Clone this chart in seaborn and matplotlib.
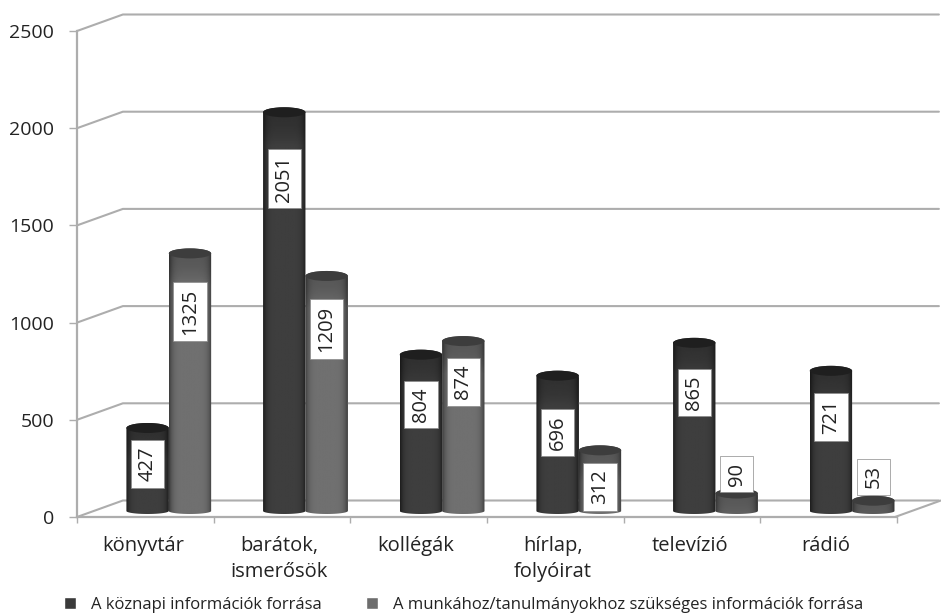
from matplotlib.patches import Ellipse, PathPatch
from matplotlib.path import Path
import matplotlib.pyplot as plt
import seaborn as sns
import pandas as pd
import numpy as np

# =====================================================
# DATA
# =====================================================

categories = ["könyvtár", "barátok,\nismerősök", "kollégák", "hírlap,\nfolyóirat", "televízió", "rádió"]
series_names = ["A köznapi információk forrása", "A munkához/tanulmányokhoz szükséges információk forrása"]
koznapi = [427, 2051, 804, 696, 865, 721]
munka = [1325, 1209, 874, 312, 90, 53]
y_ticks = [0, 500, 1000, 1500, 2000, 2500]

# where the white value boxes sit (y axis units)
koznapi_label_y = [273, 1741, 579, 435, 640, 514]
munka_label_y = [1056, 967, 696, 156, 221, 207]

df = pd.DataFrame({
    "category": categories * 2,
    "series": [series_names[0]] * 6 + [series_names[1]] * 6,
    "value": koznapi + munka,
})

# =====================================================
# SETTINGS
# =====================================================

W, H = 941, 613
left_px, right_px, bottom_px, top_px = 77, 897, 517, 31
group_px = 137
first_group_px = 169

xmin = (left_px - first_group_px) / group_px
xmax = (right_px - first_group_px) / group_px
px_x = (xmax - xmin) / (right_px - left_px)
px_y = 2500 / (bottom_px - top_px)

depth_x = 46 * px_x
depth_y = 16.5 * px_y
base = 6 * px_y

line_grey = "#adadad"
text_color = "#232323"

sns.set_theme(style="white")
plt.rcParams['font.family'] = ['Open Sans', 'DejaVu Sans']

fig = plt.figure(figsize=(W / 100, H / 100), dpi=100)
ax = fig.add_axes([left_px / W, 1 - bottom_px / H, (right_px - left_px) / W, (bottom_px - top_px) / H])

# =====================================================
# BARS
# =====================================================

sns.barplot(
    data=df,
    x="category",
    y="value",
    hue="series",
    order=categories,
    hue_order=series_names,
    palette=["#3a3a3a", "#6d6d6d"],
    width=0.62,
    gap=0,
    saturation=1,
    errorbar=None,
    ax=ax,
)

ax.set_xlim(xmin, xmax)
ax.set_ylim(0, 2500)
ax.autoscale(False)

# horizontal shading of each cylinder, edge / middle grey
shades = [(0.12, 0.245), (0.24, 0.44)]
label_ys = [koznapi_label_y, munka_label_y]

for s, container in enumerate(ax.containers):
    for i, bar in enumerate(container):
        x0 = bar.get_x()
        w = bar.get_width()
        h = bar.get_height()
        bar.set_y(base)
        top = base + h
        rx = w / 2
        cx = x0 + rx
        ry_top = 5 * px_y
        ry_bot = 3 * px_y

        t = np.linspace(0, np.pi, 40)
        outline = np.vstack([
            np.column_stack([cx - rx * np.cos(t), top + ry_top * np.sin(t)]),
            np.column_stack([cx + rx * np.cos(t), base - ry_bot * np.sin(t)]),
        ])
        clip = PathPatch(Path(np.vstack([outline, outline[0]])), transform=ax.transData)

        y_pix = np.linspace(top + ry_top, base - ry_bot, 120)
        u = np.linspace(-1, 1, 60)
        edge, mid = shades[s]
        across = edge + (mid - edge) * (1 - np.abs(u) ** 6)
        # upper part of every cylinder is a bit darker
        down = np.clip((top - y_pix) / (32 * px_y), 0, 1)
        along = 0.78 + 0.22 * down ** 2
        grad = np.outer(along, across)

        im = ax.imshow(
            grad,
            extent=[x0, x0 + w, base - ry_bot, top + ry_top],
            aspect="auto",
            cmap="gray",
            vmin=0,
            vmax=1,
            zorder=3 + s,
        )
        im.set_clip_path(clip)

        cap = Ellipse(
            (cx, top),
            w,
            2 * ry_top,
            facecolor=(edge,) * 3,
            edgecolor="none",
            zorder=3.5 + s,
        )
        ax.add_patch(cap)

        # value labels, white boxes turned on their side
        ax.text(
            cx,
            label_ys[s][i],
            str(int(h)),
            rotation=90,
            ha="center",
            va="center",
            fontsize=14.5,
            color=text_color,
            zorder=10,
            bbox=dict(boxstyle="square,pad=0.33", facecolor="white", edgecolor="#8a8a8a", linewidth=0.5),
        )

# =====================================================
# WALLS AND FLOOR
# =====================================================

x_end = xmin + (W - left_px) * px_x

for tick in y_ticks:
    ax.plot(
        [xmin, xmin + depth_x, x_end],
        [tick, tick + depth_y, tick + depth_y],
        color=line_grey,
        linewidth=1.5,
        clip_on=False,
        zorder=1,
    )

ax.plot(
    [xmax, xmax + depth_x],
    [0, depth_y],
    color=line_grey,
    linewidth=1.5,
    clip_on=False,
    zorder=1,
)

# =====================================================
# AXES
# =====================================================

sns.despine(ax=ax, top=True, right=True)

for side in ["left", "bottom"]:
    ax.spines[side].set_color(line_grey)
    ax.spines[side].set_linewidth(1.6)

ax.set_xlabel("")
ax.set_ylabel("")

ax.set_yticks(y_ticks)
ax.tick_params(axis="y", left=True, length=5.5, width=1, color=line_grey, pad=11, labelsize=14, labelcolor=text_color)

# labels sit on the front edge of the floor, not under the bars
ax.set_xticks(np.arange(6) - 0.19)
ax.set_xticklabels(categories, linespacing=1.4)
ax.tick_params(axis="x", which="major", length=0, pad=14, labelsize=14.5, labelcolor=text_color)
ax.set_xticks(xmin + np.arange(7), minor=True)
ax.tick_params(axis="x", which="minor", bottom=True, length=4.5, width=1, color=line_grey)

# =====================================================
# LEGEND
# =====================================================

sns.move_legend(
    ax,
    loc="lower left",
    bbox_to_anchor=(54 / W, -10 / H),
    bbox_transform=fig.transFigure,
    ncol=2,
    title=None,
    frameon=False,
    fontsize=12,
    handlelength=0.72,
    handleheight=0.72,
    handletextpad=0.9,
    columnspacing=2.65,
    borderaxespad=0.2,
    labelcolor=text_color,
)

plt.savefig("out.png", dpi=100)
plt.close()
